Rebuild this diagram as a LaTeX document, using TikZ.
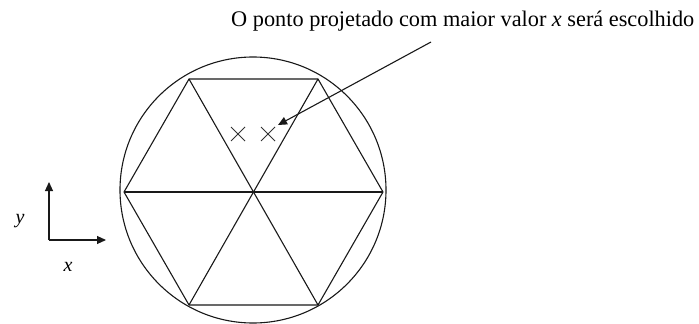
\documentclass[tikz,border=0pt]{standalone}
\usepackage{fontspec}
\setmainfont{Liberation Serif}
\usetikzlibrary{arrows.meta}
\begin{document}
\begin{tikzpicture}[x=1pt,y=-1pt,
  shape line/.style={line width=1.1pt,black!90},
  pointer/.style={line width=1.1pt,black!90,-{Triangle[length=9pt,width=8pt]}},
  crossmark/.style={line width=1pt,black!80},
  label text/.style={font=\fontsize{22.3}{24}\selectfont,inner sep=0pt}]
\useasboundingbox (0,0) rectangle (699,324);
% hexagon vertices
\coordinate (C) at (254,192);
\coordinate (L) at (124,192);
\coordinate (R) at (383,192);
\coordinate (TL) at (189,79);
\coordinate (TR) at (318,79);
\coordinate (BL) at (189,305);
\coordinate (BR) at (318,305);
\draw[shape line] (253,190) circle [radius=133];
\draw[shape line] (L) -- (TL) -- (TR) -- (R) -- (BR) -- (BL) -- cycle;
\draw[shape line] (L) -- (R);
\draw[shape line] (TL) -- (BR);
\draw[shape line] (TR) -- (BL);
% crosses
\coordinate (p1) at (238,134);
\coordinate (p2) at (268,134);
\foreach \p in {p1,p2}{
  \draw[crossmark] ([shift={(-7,-7)}]\p) -- ([shift={(7,7)}]\p);
  \draw[crossmark] ([shift={(-7,7)}]\p) -- ([shift={(7,-7)}]\p);
}
% annotation
\node[label text,anchor=base west] (note) at (231,27) {O ponto projetado com maior valor \textit{x} será escolhido};
\coordinate (ps) at (431,42);
\coordinate (pt) at (278,125);
\draw[pointer] (ps) -- (pt);
% axes
\coordinate (O) at (49,240);
\coordinate (Y) at (49,182);
\coordinate (X) at (106,240);
\draw[pointer] (O) -- (Y);
\draw[pointer] (O) -- (X);
\node[label text,font=\fontsize{20}{22}\selectfont\itshape] (ylab) at (20,221) {y};
\node[label text,font=\fontsize{20}{22}\selectfont\itshape] (xlab) at (68,267) {x};
\end{tikzpicture}
\end{document}
